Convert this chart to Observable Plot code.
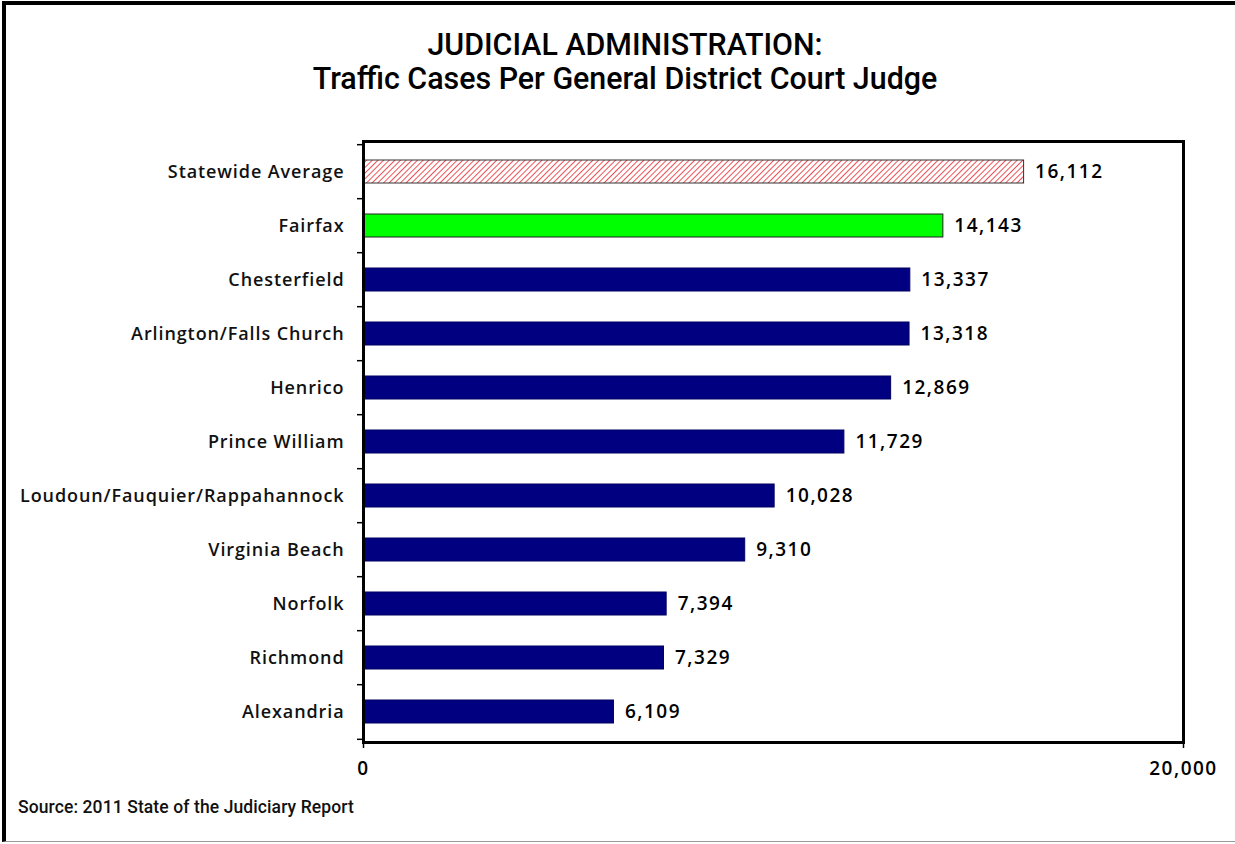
<!DOCTYPE html>
<html>
<head>
<meta charset="utf-8">
<script src="https://cdn.jsdelivr.net/npm/d3@7"></script>
<script src="https://cdn.jsdelivr.net/npm/@observablehq/plot@0.6"></script>
<style>
  html, body { margin: 0; padding: 0; background: #fff; }
  #page { position: relative; width: 1235px; height: 844px; overflow: hidden; background: #fff; }
  #border { position: absolute; left: 2px; top: 1px; width: 1240px; height: 841px;
            border-left: 4px solid #000; border-top: 4px solid #000; border-bottom: 1px solid #999; box-sizing: border-box; }
  .title { position: absolute; left: 0; width: 1250px; text-align: center; font-family: Roboto, sans-serif;
           font-weight: 500; font-size: 31px; color: #000; transform: scaleX(0.98); transform-origin: 625px 0; }
  #source { position: absolute; left: 18px; top: 797px; font-family: Roboto, sans-serif; font-weight: 500; font-size: 17.5px; color: #111;
            white-space: nowrap; letter-spacing: 0.1px; }
  #chart { position: absolute; left: 0; top: 0; }
  #chart g[aria-label="y-axis tick label"] { letter-spacing: 0.9px; }
  #chart g[aria-label="text"] { letter-spacing: 1.5px; }
  #chart g[aria-label="x-axis tick label"] { letter-spacing: 1.5px; }
</style>
</head>
<body>
<div id="page">
  <div id="border"></div>
  <div class="title" style="top:26px">JUDICIAL ADMINISTRATION:</div>
  <div class="title" style="top:60px">Traffic Cases Per General District Court Judge</div>
  <div id="chart"></div>
  <div id="source">Source: 2011 State of the Judiciary Report</div>
</div>
<script>
const categories = ["Statewide Average", "Fairfax", "Chesterfield", "Arlington/Falls Church", "Henrico",
  "Prince William", "Loudoun/Fauquier/Rappahannock", "Virginia Beach", "Norfolk", "Richmond", "Alexandria"];
const values = [16112, 14143, 13337, 13318, 12869, 11729, 10028, 9310, 7394, 7329, 6109];
const groups = ["average", "fairfax", "other", "other", "other", "other", "other", "other", "other", "other", "other"];
const xTicks = [0, 20000];

const data = categories.map((c, i) => ({category: c, value: values[i], group: groups[i]}));
const fills = {average: "url(#hatch)", fairfax: "#00ff00", other: "#000080"};
const strokes = {average: "#333", fairfax: "#222", other: "#000060"};

const W = 1235, H = 800, mT = 141, mB = 58, mL = 363, mR = 52;
const step = (H - mT - mB) / categories.length;
const tickLen = 6 / (W - mL - mR) * 20000;
const font = "'Open Sans', 'DejaVu Sans', sans-serif";
const fmt = d3.format(",");

const chart = Plot.plot({
  width: W, height: H,
  marginTop: mT, marginBottom: mB, marginLeft: mL, marginRight: mR,
  style: {fontFamily: font, fontSize: "16px", color: "#000", background: "transparent", overflow: "visible"},
  x: {domain: [0, 20000], axis: null},
  y: {domain: categories, paddingInner: 0.58, paddingOuter: 0.29, axis: null},
  marks: [
    Plot.barX(data, {y: "category", x: "value", fill: d => fills[d.group], stroke: d => strokes[d.group], strokeWidth: 1}),
    Plot.text(data, {y: "category", x: "value", text: d => fmt(d.value), textAnchor: "start", dx: 11,
      fontSize: 19, fontWeight: 600, fill: "#000"}),
    Plot.axisY({tickSize: 0, tickPadding: 19, fontSize: 18, fontWeight: 600, fill: "#111", label: null}),
    Plot.ruleY(categories, {y: d => d, dy: -step / 2, x1: -tickLen, x2: 0, stroke: "#000", strokeWidth: 1.5, clip: false}),
    Plot.ruleY([categories[categories.length - 1]], {y: d => d, dy: step / 2, x1: -tickLen, x2: 0, stroke: "#000", strokeWidth: 1.5}),
    Plot.axisX({ticks: xTicks, tickFormat: fmt, tickSize: 6, tickPadding: 13, fontSize: 19, fontWeight: 600, strokeWidth: 1.5,
      label: null}),
    Plot.frame({stroke: "#000", strokeWidth: 3})
  ]
});

const svg = d3.select(chart);
const defs = svg.insert("defs", ":first-child");
const pat = defs.append("pattern").attr("id", "hatch").attr("patternUnits", "userSpaceOnUse")
  .attr("width", 4).attr("height", 4).attr("patternTransform", "rotate(45)");
pat.append("rect").attr("width", 4).attr("height", 4).attr("fill", "#fff");
pat.append("line").attr("x1", 0).attr("y1", 0).attr("x2", 0).attr("y2", 4).attr("stroke", "#e8262c").attr("stroke-width", 1.6);

document.getElementById("chart").appendChild(chart);
</script>
</body>
</html>
